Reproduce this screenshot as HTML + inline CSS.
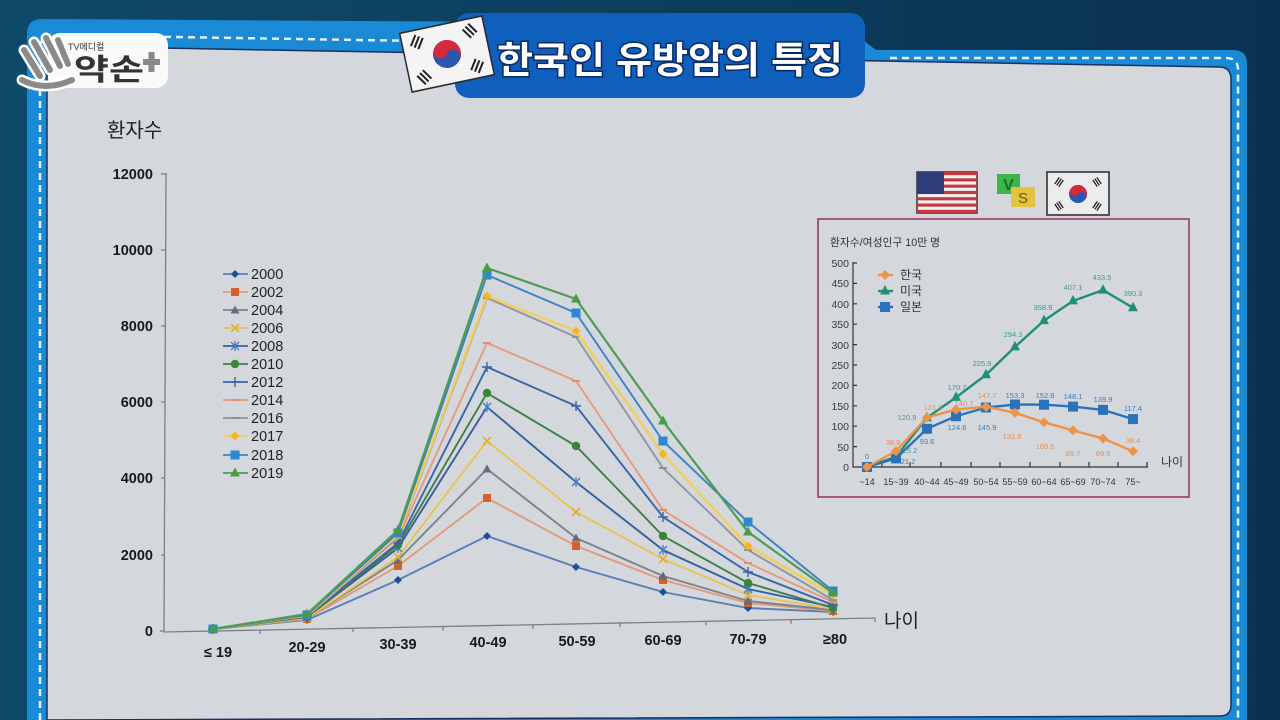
<!DOCTYPE html>
<html><head><meta charset="utf-8">
<style>
html,body{margin:0;padding:0;width:1280px;height:720px;overflow:hidden;background:#0c3a58;}
svg{display:block}
text{font-family:"Liberation Sans","Noto Sans CJK KR",sans-serif;}
</style></head><body>
<svg width="1280" height="720" viewBox="0 0 1280 720" xmlns="http://www.w3.org/2000/svg">
<defs>
<linearGradient id="bg" x1="0" y1="0" x2="1" y2="0">
<stop offset="0" stop-color="#0e4a6a"/><stop offset="0.5" stop-color="#0d3e5e"/><stop offset="1" stop-color="#0a3150"/>
</linearGradient>
<marker id="s2000" markerWidth="10" markerHeight="10" refX="5" refY="5" markerUnits="userSpaceOnUse" overflow="visible"><path d="M5,1 L9,5 L5,9 L1,5Z" fill="#1d4d9e"/></marker>
<marker id="s2002" markerWidth="10" markerHeight="10" refX="5" refY="5" markerUnits="userSpaceOnUse" overflow="visible"><rect x="1" y="1" width="8" height="8" fill="#d5612c"/></marker>
<marker id="s2004" markerWidth="10" markerHeight="10" refX="5" refY="5.5" markerUnits="userSpaceOnUse" overflow="visible"><path d="M5,1 L9.5,9 L0.5,9Z" fill="#666c78"/></marker>
<marker id="s2006" markerWidth="10" markerHeight="10" refX="5" refY="5" markerUnits="userSpaceOnUse" overflow="visible"><path d="M1,1 L9,9 M9,1 L1,9" stroke="#e0b12a" stroke-width="1.6"/></marker>
<marker id="s2008" markerWidth="10" markerHeight="10" refX="5" refY="5" markerUnits="userSpaceOnUse" overflow="visible"><path d="M1,1 L9,9 M9,1 L1,9 M5,0 L5,10" stroke="#4a7cc0" stroke-width="1.3"/></marker>
<marker id="s2010" markerWidth="10" markerHeight="10" refX="5" refY="5" markerUnits="userSpaceOnUse" overflow="visible"><circle cx="5" cy="5" r="4.2" fill="#3a8636"/></marker>
<marker id="s2012" markerWidth="10" markerHeight="10" refX="5" refY="5" markerUnits="userSpaceOnUse" overflow="visible"><path d="M0,5 H10 M5,0 V10" stroke="#3a64a8" stroke-width="1.4"/></marker>
<marker id="s2014" markerWidth="10" markerHeight="10" refX="5" refY="5" markerUnits="userSpaceOnUse" overflow="visible"><path d="M1,5 H9" stroke="#e0906c" stroke-width="2"/></marker>
<marker id="s2016" markerWidth="10" markerHeight="10" refX="5" refY="5" markerUnits="userSpaceOnUse" overflow="visible"><path d="M1,5 H9" stroke="#8c929c" stroke-width="2"/></marker>
<marker id="s2017" markerWidth="10" markerHeight="10" refX="5" refY="5" markerUnits="userSpaceOnUse" overflow="visible"><path d="M5,0.5 L9.5,5 L5,9.5 L0.5,5Z" fill="#f2b81e"/></marker>
<marker id="s2018" markerWidth="10" markerHeight="10" refX="5" refY="5" markerUnits="userSpaceOnUse" overflow="visible"><rect x="0.5" y="0.5" width="9" height="9" fill="#2e88d0"/></marker>
<marker id="s2019" markerWidth="10" markerHeight="10" refX="5" refY="6" markerUnits="userSpaceOnUse" overflow="visible"><path d="M5,0.5 L10,9.5 L0,9.5Z" fill="#4a9c44"/></marker>
<marker id="kr" markerWidth="10" markerHeight="10" refX="5" refY="5" markerUnits="userSpaceOnUse" overflow="visible"><path d="M5,0 L10,5 L5,10 L0,5Z" fill="#ee9448"/></marker>
<marker id="us" markerWidth="10" markerHeight="10" refX="5" refY="6" markerUnits="userSpaceOnUse" overflow="visible"><path d="M5,0 L10,9.5 L0,9.5Z" fill="#1f9078"/></marker>
<marker id="jp" markerWidth="10" markerHeight="10" refX="5" refY="5" markerUnits="userSpaceOnUse" overflow="visible"><rect x="0" y="0" width="10" height="10" fill="#2a72bc"/></marker>
</defs>

<rect width="1280" height="720" fill="url(#bg)"/>

<!-- blue frame -->
<path d="M27,34 Q27,19 42,19 L842,24 L876,50 L1233,50 Q1247,50 1247,64 L1247,720 L27,720 Z" fill="#1a8ad6"/>
<path d="M40,720 L40,48 Q40,35 53,35 L420,41" stroke="#dff2ff" stroke-width="2.5" fill="none" stroke-dasharray="7,5"/>
<path d="M890,58 L1226,58 Q1238,58 1238,70 L1238,720" stroke="#dff2ff" stroke-width="2.5" fill="none" stroke-dasharray="7,5"/>

<!-- panel -->
<path d="M47,46 L1219,67 Q1231,67 1231,79 L1231,705 Q1231,716 1220,716 L47,720 Z" fill="#d4d7dc" stroke="#1c2f5e" stroke-width="1.5"/>

<!-- title tab -->
<rect x="455" y="13" width="410" height="85" rx="14" fill="#0f5fbd"/>
<text x="497" y="73" font-size="37" font-weight="bold" fill="#ffffff" stroke="#0a2c66" stroke-width="3" style="paint-order:stroke" textLength="346" lengthAdjust="spacingAndGlyphs">한국인 유방암의 특징</text>

<!-- title flag -->
<g transform="translate(447,54) rotate(-12)">
<rect x="-42" y="-30" width="84" height="60" fill="#f4f4f4" stroke="#2a2a2a" stroke-width="1.5"/>
<g transform="rotate(33.7)"><circle r="14" fill="#2c55b0"/><path d="M-14,0 A14,14 0 0 1 14,0 Z" fill="#d42a3a"/><circle cx="-7" r="7" fill="#d42a3a"/><circle cx="7" r="7" fill="#2c55b0"/></g>
<g fill="#222">
<g transform="translate(-27,-18) rotate(33.7)"><rect x="-5" y="-6" width="2" height="12"/><rect x="-1" y="-6" width="2" height="12"/><rect x="3" y="-6" width="2" height="12"/></g>
<g transform="translate(27,-18) rotate(-33.7)"><rect x="-5" y="-6" width="2" height="12"/><rect x="-1" y="-6" width="2" height="12"/><rect x="3" y="-6" width="2" height="12"/></g>
<g transform="translate(-27,18) rotate(-33.7)"><rect x="-5" y="-6" width="2" height="12"/><rect x="-1" y="-6" width="2" height="12"/><rect x="3" y="-6" width="2" height="12"/></g>
<g transform="translate(27,18) rotate(33.7)"><rect x="-5" y="-6" width="2" height="12"/><rect x="-1" y="-6" width="2" height="12"/><rect x="3" y="-6" width="2" height="12"/></g>
</g>
</g>

<!-- logo -->
<rect x="48" y="33" width="120" height="55" rx="12" fill="#fafafa"/>
<g stroke-linecap="round" fill="none">
<path d="M24,50 L40,76 M34,42 L50,70 M46,38 L60,66 M58,40 L68,64" stroke="#ffffff" stroke-width="11"/>
<path d="M22,80 Q45,92 72,80" stroke="#ffffff" stroke-width="11"/>
<path d="M24,50 L40,76 M34,42 L50,70 M46,38 L60,66 M58,40 L68,64" stroke="#8a8a8a" stroke-width="6"/>
<path d="M22,80 Q45,92 72,80" stroke="#8a8a8a" stroke-width="6"/>
</g>
<text x="68" y="50" font-size="9" fill="#333">TV메디컬</text>
<text x="74" y="80" font-size="30" font-weight="bold" fill="#333" textLength="70" lengthAdjust="spacingAndGlyphs">약손</text>
<rect x="143" y="59" width="17" height="6" fill="#8a8a8a"/><rect x="148.5" y="52" width="6" height="20" fill="#8a8a8a"/>

<!-- main chart -->
<text x="107" y="137" font-size="20" fill="#222">환자수</text>
<g font-size="14.5" font-weight="bold" fill="#1a1a1a" text-anchor="end">
<text x="153" y="179">12000</text>
<text x="153" y="255">10000</text>
<text x="153" y="331">8000</text>
<text x="153" y="407">6000</text>
<text x="153" y="483">4000</text>
<text x="153" y="560">2000</text>
<text x="153" y="636">0</text>
</g>
<g stroke="#7a7f88" stroke-width="1.3" fill="none">
<path d="M166,173 L164,632 L875,618"/>
<path d="M161,174H166 M161,250H166 M161,326H165.5 M161,402H165 M161,478H165 M161,555H164.5 M160,631H164"/>
<path d="M260,630V634 M353,628V632 M443,626.5V630.5 M533,624.7V628.7 M620,623V627 M706,621.3V625.3 M791,619.7V623.7 M875,618V622"/>
</g>
<g font-size="14.5" font-weight="bold" fill="#1a1a1a" text-anchor="middle">
<text x="218" y="657">≤ 19</text>
<text x="307" y="652">20-29</text>
<text x="398" y="649">30-39</text>
<text x="488" y="647">40-49</text>
<text x="577" y="646">50-59</text>
<text x="663" y="645">60-69</text>
<text x="748" y="644">70-79</text>
<text x="835" y="644">≥80</text>
</g>
<text x="884" y="627" font-size="19" fill="#222">나이</text>

<g fill="none" stroke-width="1.9">
<polyline stroke="#5a7fb8" marker-start="url(#s2000)" marker-mid="url(#s2000)" marker-end="url(#s2000)" points="213,629 307,620 398,580 487,536 576,567 663,592 748,608 833,612"/>
<polyline stroke="#e39a78" marker-start="url(#s2002)" marker-mid="url(#s2002)" marker-end="url(#s2002)" points="213,629 307,619 398,566 487,498 576,546 663,580 748,603 833,611"/>
<polyline stroke="#7c828c" marker-start="url(#s2004)" marker-mid="url(#s2004)" marker-end="url(#s2004)" points="213,629 307,618 398,560 487,469 576,538 663,576 748,601 833,610"/>
<polyline stroke="#e8c453" marker-start="url(#s2006)" marker-mid="url(#s2006)" marker-end="url(#s2006)" points="213,629 307,618 398,557 487,441 576,512 663,559 748,595 833,609"/>
<polyline stroke="#355f9f" marker-start="url(#s2008)" marker-mid="url(#s2008)" marker-end="url(#s2008)" points="213,629 307,617 398,548 487,407 576,482 663,550 748,589 833,607"/>
<polyline stroke="#3f7f4a" marker-start="url(#s2010)" marker-mid="url(#s2010)" marker-end="url(#s2010)" points="213,629 307,617 398,545 487,393 576,446 663,536 748,583 833,608"/>
<polyline stroke="#3a66a8" marker-start="url(#s2012)" marker-mid="url(#s2012)" marker-end="url(#s2012)" points="213,629 307,616 398,543 487,367 576,406 663,517 748,572 833,605"/>
<polyline stroke="#e69a7c" marker-start="url(#s2014)" marker-mid="url(#s2014)" marker-end="url(#s2014)" points="213,629 307,616 398,538 487,343 576,381 663,510 748,563 833,602"/>
<polyline stroke="#9096a0" marker-start="url(#s2016)" marker-mid="url(#s2016)" marker-end="url(#s2016)" points="213,629 307,615 398,537 487,298 576,337 663,468 748,550 833,600"/>
<polyline stroke="#f0cf5a" stroke-width="2.4" marker-start="url(#s2017)" marker-mid="url(#s2017)" marker-end="url(#s2017)" points="213,629 307,615 398,535 487,296 576,331 663,454 748,546 833,595"/>
<polyline stroke="#3c82c4" marker-start="url(#s2018)" marker-mid="url(#s2018)" marker-end="url(#s2018)" points="213,629 307,615 398,533 487,275 576,313 663,441 748,522 833,591"/>
<polyline stroke="#4f9a56" stroke-width="2.2" marker-start="url(#s2019)" marker-mid="url(#s2019)" marker-end="url(#s2019)" points="213,629 307,614 398,530 487,268 576,299 663,421 748,532 833,593"/>
</g>

<!-- legend -->
<g stroke-width="1.8" fill="none">
<polyline points="223,274 235,274 248,274" stroke="#5a7fb8" marker-mid="url(#s2000)"/>
<polyline points="223,292 235,292 248,292" stroke="#e39a78" marker-mid="url(#s2002)"/>
<polyline points="223,310 235,310 248,310" stroke="#7c828c" marker-mid="url(#s2004)"/>
<polyline points="223,328 235,328 248,328" stroke="#e8c453" marker-mid="url(#s2006)"/>
<polyline points="223,346 235,346 248,346" stroke="#355f9f" marker-mid="url(#s2008)"/>
<polyline points="223,364 235,364 248,364" stroke="#3f7f4a" marker-mid="url(#s2010)"/>
<polyline points="223,382 235,382 248,382" stroke="#3a66a8" marker-mid="url(#s2012)"/>
<polyline points="223,400 235,400 248,400" stroke="#e69a7c" marker-mid="url(#s2014)"/>
<polyline points="223,418 235,418 248,418" stroke="#9096a0" marker-mid="url(#s2016)"/>
<polyline points="223,436 235,436 248,436" stroke="#f0cf5a" marker-mid="url(#s2017)"/>
<polyline points="223,455 235,455 248,455" stroke="#3c82c4" marker-mid="url(#s2018)"/>
<polyline points="223,473 235,473 248,473" stroke="#4f9a56" marker-mid="url(#s2019)"/>
</g>
<g font-size="14.5" fill="#222">
<text x="251" y="279">2000</text>
<text x="251" y="297">2002</text>
<text x="251" y="315">2004</text>
<text x="251" y="333">2006</text>
<text x="251" y="351">2008</text>
<text x="251" y="369">2010</text>
<text x="251" y="387">2012</text>
<text x="251" y="405">2014</text>
<text x="251" y="423">2016</text>
<text x="251" y="441">2017</text>
<text x="251" y="460">2018</text>
<text x="251" y="478">2019</text>
</g>

<!-- inset flags -->
<g>
<rect x="917" y="172" width="60" height="41" fill="#f0f0f0" stroke="#333" stroke-width="1.5"/>
<g fill="#c23a3f">
<rect x="917" y="172" width="60" height="3.15"/><rect x="917" y="178.3" width="60" height="3.15"/><rect x="917" y="184.6" width="60" height="3.15"/><rect x="917" y="190.9" width="60" height="3.15"/><rect x="917" y="197.2" width="60" height="3.15"/><rect x="917" y="203.5" width="60" height="3.15"/><rect x="917" y="209.8" width="60" height="3.2"/>
</g>
<rect x="917" y="172" width="27" height="22" fill="#2e3e7a"/>
<rect x="997" y="174" width="23" height="20" fill="#3cb54a"/>
<text x="1008.5" y="190" font-size="16" font-weight="bold" fill="#1f6e22" text-anchor="middle">V</text>
<rect x="1011" y="187" width="24" height="20" fill="#e2c23e"/>
<text x="1023" y="203" font-size="15" fill="#6b5a10" text-anchor="middle">S</text>
<rect x="1047" y="172" width="62" height="43" fill="#ececec" stroke="#555" stroke-width="2"/>
<g transform="translate(1078,194)">
<g transform="rotate(33.7)"><circle r="9" fill="#2c55b0"/><path d="M-9,0 A9,9 0 0 1 9,0 Z" fill="#d42a3a"/><circle cx="-4.5" r="4.5" fill="#d42a3a"/><circle cx="4.5" r="4.5" fill="#2c55b0"/></g>
<g fill="#222">
<g transform="translate(-19,-12) rotate(33.7)"><rect x="-3" y="-4" width="1.3" height="8"/><rect x="-0.6" y="-4" width="1.3" height="8"/><rect x="1.8" y="-4" width="1.3" height="8"/></g>
<g transform="translate(19,-12) rotate(-33.7)"><rect x="-3" y="-4" width="1.3" height="8"/><rect x="-0.6" y="-4" width="1.3" height="8"/><rect x="1.8" y="-4" width="1.3" height="8"/></g>
<g transform="translate(-19,12) rotate(-33.7)"><rect x="-3" y="-4" width="1.3" height="8"/><rect x="-0.6" y="-4" width="1.3" height="8"/><rect x="1.8" y="-4" width="1.3" height="8"/></g>
<g transform="translate(19,12) rotate(33.7)"><rect x="-3" y="-4" width="1.3" height="8"/><rect x="-0.6" y="-4" width="1.3" height="8"/><rect x="1.8" y="-4" width="1.3" height="8"/></g>
</g>
</g>
</g>

<!-- inset box -->
<rect x="818" y="219" width="371" height="278" fill="none" stroke="#a8587a" stroke-width="2"/>
<text x="830" y="246" font-size="11" fill="#333" textLength="110" lengthAdjust="spacingAndGlyphs">환자수/여성인구 10만 명</text>
<g font-size="10.5" fill="#3a3a3a" text-anchor="end">
<text x="849" y="267">500</text>
<text x="849" y="287">450</text>
<text x="849" y="308">400</text>
<text x="849" y="328">350</text>
<text x="849" y="349">300</text>
<text x="849" y="369">250</text>
<text x="849" y="389">200</text>
<text x="849" y="410">150</text>
<text x="849" y="430">100</text>
<text x="849" y="451">50</text>
<text x="849" y="471">0</text>
</g>
<g stroke="#333" stroke-width="1.2" fill="none">
<path d="M853,262 V467 H1148"/>
<path d="M853,263H857 M853,283.4H857 M853,303.8H857 M853,324.2H857 M853,344.6H857 M853,365H857 M853,385.4H857 M853,405.8H857 M853,426.2H857 M853,446.6H857"/>
<path d="M882,467V462 M910,467V462 M941,467V462 M971,467V462 M1000,467V462 M1030,467V462 M1060,467V462 M1089,467V462 M1118,467V462 M1147,467V462"/>
</g>
<g font-size="9" fill="#333" text-anchor="middle">
<text x="867" y="485">~14</text>
<text x="896" y="485">15~39</text>
<text x="927" y="485">40~44</text>
<text x="956" y="485">45~49</text>
<text x="986" y="485">50~54</text>
<text x="1015" y="485">55~59</text>
<text x="1044" y="485">60~64</text>
<text x="1073" y="485">65~69</text>
<text x="1103" y="485">70~74</text>
<text x="1133" y="485">75~</text>
</g>
<text x="1161" y="466" font-size="12" fill="#333">나이</text>

<g fill="none" stroke-width="2.4">
<polyline stroke="#1f9078" marker-start="url(#us)" marker-mid="url(#us)" marker-end="url(#us)" points="867,467 896,456.7 927,417.7 956,397.4 986,374.8 1015,346.9 1044,320.6 1073,300.9 1103,290.1 1133,307.8"/>
<polyline stroke="#2a72bc" marker-start="url(#jp)" marker-mid="url(#jp)" marker-end="url(#jp)" points="867,467 896,458.4 927,428.8 956,416.2 986,407.5 1015,404.5 1044,404.7 1073,406.6 1103,409.9 1133,419.1"/>
<polyline stroke="#ee9448" marker-start="url(#kr)" marker-mid="url(#kr)" marker-end="url(#kr)" points="867,467 896,451.1 927,417.4 956,409.6 986,406.7 1015,412.8 1044,422.3 1073,430.4 1103,438.5 1133,451.3"/>
</g>
<g stroke-width="2.4" fill="none">
<polyline points="878,275 885,275 893,275" stroke="#ee9448" marker-mid="url(#kr)"/>
<polyline points="878,291 885,291 893,291" stroke="#1f9078" marker-mid="url(#us)"/>
<polyline points="878,307 885,307 893,307" stroke="#2a72bc" marker-mid="url(#jp)"/>
</g>
<g font-size="12" fill="#333">
<text x="900" y="279">한국</text>
<text x="900" y="295">미국</text>
<text x="900" y="311">일본</text>
</g>
<g font-size="7.5" text-anchor="middle">
<g fill="#e0905a">
<text x="893" y="445">38.9</text><text x="933" y="410">121.6</text><text x="964" y="406">140.7</text><text x="987" y="398">147.7</text><text x="1012" y="439">132.8</text><text x="1045" y="449">109.5</text><text x="1073" y="456">89.7</text><text x="1103" y="456">69.9</text><text x="1133" y="443">38.4</text>
</g>
<g fill="#3a9f8c">
<text x="910" y="453">25.2</text><text x="907" y="420">120.9</text><text x="957" y="390">170.7</text><text x="982" y="366">225.9</text><text x="1013" y="337">294.3</text><text x="1043" y="310">358.9</text><text x="1073" y="290">407.1</text><text x="1102" y="280">433.5</text><text x="1133" y="296">390.3</text>
</g>
<g fill="#3580c0">
<text x="867" y="459">0</text><text x="908" y="464">21.2</text><text x="927" y="444">93.6</text><text x="957" y="430">124.6</text><text x="987" y="430">145.9</text><text x="1015" y="398">153.3</text><text x="1045" y="398">152.8</text><text x="1073" y="399">148.1</text><text x="1103" y="402">139.9</text><text x="1133" y="411">117.4</text>
</g>
</g>
</svg>
</body></html>
